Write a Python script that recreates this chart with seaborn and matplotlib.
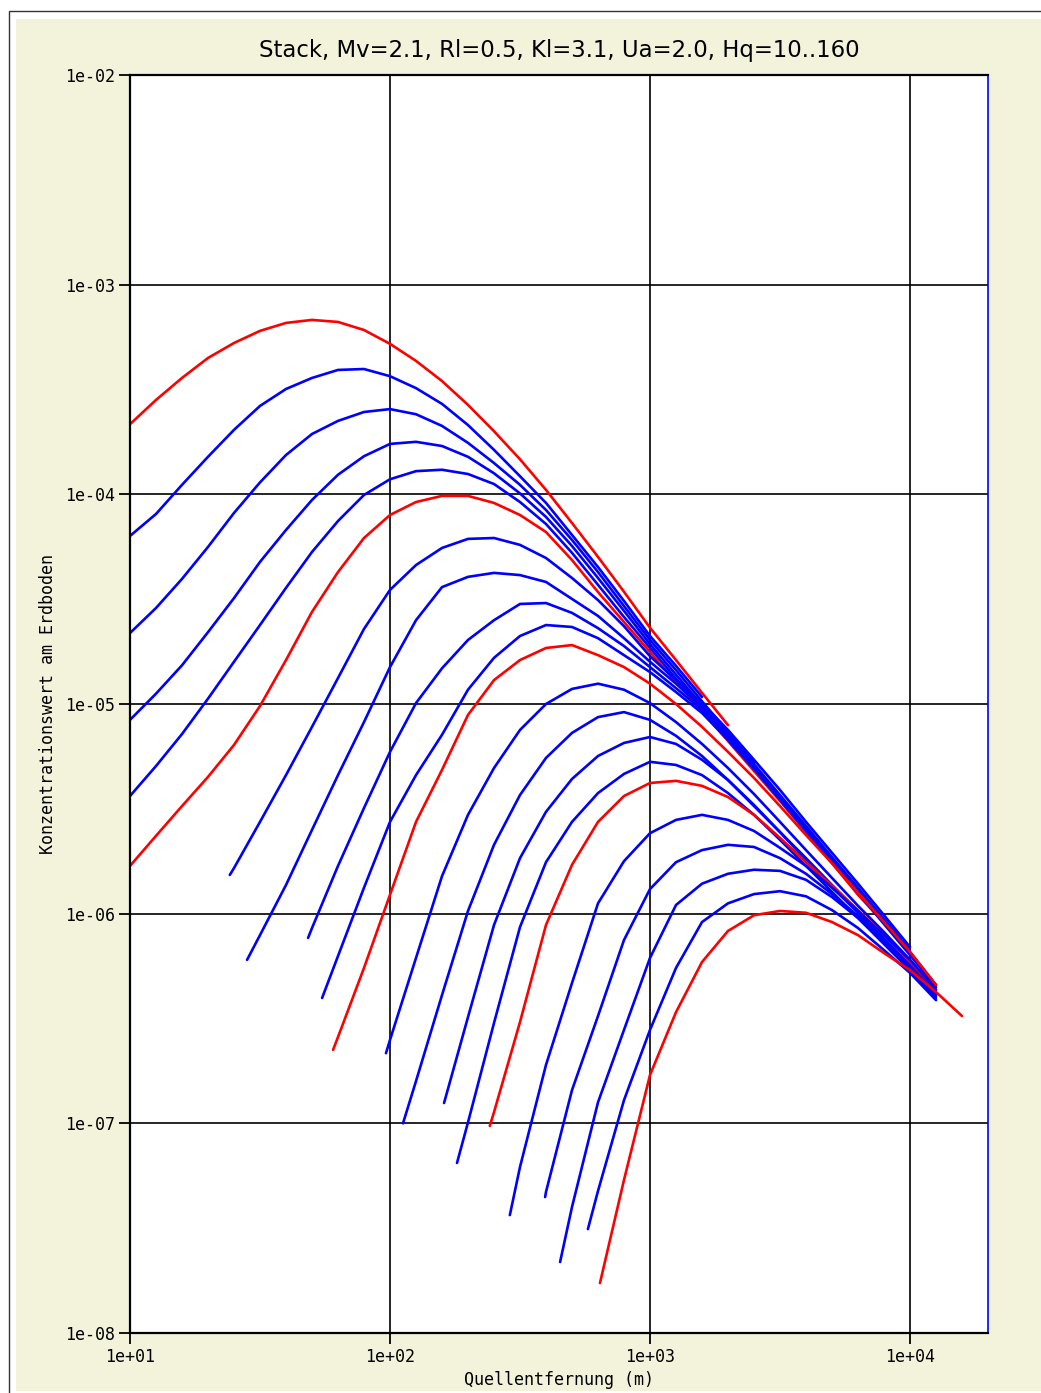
import matplotlib
matplotlib.use("Agg")
import matplotlib.pyplot as plt
import seaborn as sns
import pandas as pd
from matplotlib.patches import Rectangle
from matplotlib.ticker import FixedLocator, FuncFormatter, NullLocator

# ---------------- data ----------------
TITLE = "Stack, Mv=2.1, Rl=0.5, Kl=3.1, Ua=2.0, Hq=10..160"
XLABEL = "Quellentfernung (m)"
YLABEL = "Konzentrationswert am Erdboden"
XTICKS = [1e1, 1e2, 1e3, 1e4]
YTICKS = [1e-8, 1e-7, 1e-6, 1e-5, 1e-4, 1e-3, 1e-2]

# common distance grid (m)
DIST = [10, 12.59, 15.85, 19.95, 25.12, 31.62, 39.81, 50.12, 63.10, 79.43,
        100, 125.9, 158.5, 199.5, 251.2, 316.2, 398.1, 501.2, 631.0, 794.3,
        1000, 1259, 1585, 1995, 2512, 3162, 3981, 5012, 6310, 7943,
        10000, 12589, 15849]

# each curve: first point (if off-grid), first grid index, concentrations
c00_start, c00_i0 = None, 0
c00 = [2.16e-4, 2.82e-4, 3.59e-4, 4.47e-4, 5.27e-4, 6.02e-4, 6.57e-4, 6.79e-4, 6.64e-4, 6.08e-4,
       5.22e-4, 4.33e-4, 3.47e-4, 2.67e-4, 2.00e-4, 1.47e-4, 1.05e-4, 7.30e-5, 5.03e-5, 3.43e-5,
       2.31e-5, 1.62e-5, 1.13e-5, 7.93e-6]
c01_start, c01_i0 = None, 0
c01 = [6.33e-5, 8.06e-5, 1.11e-4, 1.51e-4, 2.03e-4, 2.64e-4, 3.18e-4, 3.59e-4, 3.92e-4, 3.96e-4,
       3.66e-4, 3.21e-4, 2.70e-4, 2.14e-4, 1.63e-4, 1.22e-4, 9.10e-5, 6.40e-5, 4.50e-5, 3.10e-5,
       2.11e-5, 1.52e-5, 1.08e-5]
c02_start, c02_i0 = None, 0
c02 = [2.18e-5, 2.87e-5, 3.95e-5, 5.61e-5, 8.15e-5, 1.14e-4, 1.54e-4, 1.94e-4, 2.24e-4, 2.47e-4,
       2.55e-4, 2.41e-4, 2.12e-4, 1.76e-4, 1.41e-4, 1.11e-4, 8.42e-5, 6.06e-5, 4.26e-5, 2.93e-5,
       2.02e-5, 1.45e-5, 1.03e-5, 7.36e-6, 5.24e-6]
c03_start, c03_i0 = None, 0
c03 = [8.40e-6, 1.12e-5, 1.53e-5, 2.20e-5, 3.20e-5, 4.76e-5, 6.76e-5, 9.40e-5, 1.24e-4, 1.52e-4,
       1.74e-4, 1.78e-4, 1.70e-4, 1.51e-4, 1.26e-4, 1.01e-4, 7.80e-5, 5.67e-5, 3.99e-5, 2.78e-5,
       1.93e-5, 1.38e-5, 9.86e-6, 7.05e-6, 5.06e-6, 3.60e-6, 2.56e-6]
c04_start, c04_i0 = None, 0
c04 = [3.64e-6, 5.06e-6, 7.19e-6, 1.06e-5, 1.59e-5, 2.38e-5, 3.58e-5, 5.31e-5, 7.46e-5, 9.93e-5,
       1.18e-4, 1.29e-4, 1.31e-4, 1.25e-4, 1.12e-4, 9.19e-5, 7.22e-5, 5.26e-5, 3.70e-5, 2.60e-5,
       1.85e-5, 1.32e-5, 9.57e-6, 6.89e-6, 4.95e-6, 3.52e-6, 2.51e-6, 1.78e-6]
c05_start, c05_i0 = None, 0
c05 = [1.69e-6, 2.35e-6, 3.26e-6, 4.49e-6, 6.38e-6, 9.78e-6, 1.62e-5, 2.75e-5, 4.26e-5, 6.19e-5,
       7.97e-5, 9.19e-5, 9.83e-5, 9.83e-5, 9.10e-5, 7.97e-5, 6.61e-5, 4.86e-5, 3.42e-5, 2.46e-5,
       1.77e-5, 1.27e-5, 9.26e-6, 6.66e-6, 4.79e-6, 3.45e-6, 2.45e-6, 1.74e-6, 1.23e-6, 9.03e-7]
c06_start, c06_i0 = (24.2, 1.53e-6), 4
c06 = [1.65e-6, 2.74e-6, 4.58e-6, 7.78e-6, 1.33e-5, 2.28e-5, 3.50e-5, 4.60e-5, 5.55e-5, 6.13e-5,
       6.19e-5, 5.74e-5, 4.97e-5, 3.99e-5, 3.13e-5, 2.35e-5, 1.69e-5, 1.30e-5, 1.01e-5, 7.52e-6,
       5.42e-6, 3.89e-6, 2.74e-6, 1.95e-6, 1.39e-6, 9.83e-7, 6.93e-7]
c07_start, c07_i0 = (28.2, 6.02e-7), 5
c07 = [7.90e-7, 1.37e-6, 2.51e-6, 4.58e-6, 8.20e-6, 1.50e-5, 2.51e-5, 3.61e-5, 4.04e-5, 4.22e-5,
       4.12e-5, 3.82e-5, 3.17e-5, 2.63e-5, 2.06e-5, 1.59e-5, 1.25e-5, 9.67e-6, 7.19e-6, 5.17e-6,
       3.68e-6, 2.62e-6, 1.86e-6, 1.33e-6, 9.42e-7, 6.70e-7]
c08_start, c08_i0 = (48.4, 7.66e-7), 7
c08 = [8.54e-7, 1.69e-6, 3.19e-6, 5.91e-6, 1.01e-5, 1.48e-5, 2.02e-5, 2.51e-5, 3.00e-5, 3.03e-5,
       2.72e-5, 2.30e-5, 1.89e-5, 1.50e-5, 1.19e-5, 9.36e-6, 6.96e-6, 5.00e-6, 3.60e-6, 2.56e-6,
       1.82e-6, 1.30e-6, 9.22e-7, 6.57e-7, 4.57e-7]
c09_start, c09_i0 = (54.8, 3.96e-7), 8
c09 = [6.28e-7, 1.33e-6, 2.74e-6, 4.58e-6, 7.13e-6, 1.17e-5, 1.66e-5, 2.11e-5, 2.38e-5, 2.33e-5,
       2.06e-5, 1.71e-5, 1.42e-5, 1.14e-5, 9.06e-6, 6.73e-6, 4.90e-6, 3.49e-6, 2.48e-6, 1.76e-6,
       1.26e-6, 8.92e-7, 6.35e-7, 4.47e-7]
c10_start, c10_i0 = (60.4, 2.24e-7), 8
c10 = [2.58e-7, 5.51e-7, 1.23e-6, 2.74e-6, 4.85e-6, 8.87e-6, 1.30e-5, 1.62e-5, 1.85e-5, 1.91e-5,
       1.71e-5, 1.50e-5, 1.25e-5, 1.00e-5, 7.78e-6, 5.91e-6, 4.44e-6, 3.26e-6, 2.37e-6, 1.74e-6,
       1.26e-6, 9.12e-7, 6.57e-7, 4.57e-7]
c11_start, c11_i0 = (96.5, 2.16e-7), 10
c11 = [2.50e-7, 6.15e-7, 1.51e-6, 2.96e-6, 4.95e-6, 7.52e-6, 1.00e-5, 1.18e-5, 1.25e-5, 1.17e-5,
       1.01e-5, 8.20e-6, 6.45e-6, 4.95e-6, 3.72e-6, 2.74e-6, 2.01e-6, 1.48e-6, 1.09e-6, 8.17e-7,
       6.02e-7, 4.33e-7]
c12_start, c12_i0 = (112.2, 1.00e-7), 11
c12 = [1.59e-7, 4.09e-7, 1.03e-6, 2.13e-6, 3.68e-6, 5.53e-6, 7.28e-6, 8.66e-6, 9.15e-6, 8.40e-6,
       7.05e-6, 5.65e-6, 4.34e-6, 3.30e-6, 2.45e-6, 1.84e-6, 1.37e-6, 1.03e-6, 7.74e-7, 5.82e-7,
       4.18e-7]
c13_start, c13_i0 = (161.4, 1.25e-7), 13
c13 = [3.21e-7, 8.83e-7, 1.84e-6, 3.06e-6, 4.39e-6, 5.65e-6, 6.52e-6, 6.96e-6, 6.45e-6, 5.42e-6,
       4.34e-6, 3.26e-6, 2.45e-6, 1.80e-6, 1.34e-6, 1.01e-6, 7.49e-7, 5.63e-7, 4.09e-7]
c14_start, c14_i0 = (181.0, 6.47e-8), 13
c14 = [1.01e-7, 3.01e-7, 8.63e-7, 1.76e-6, 2.74e-6, 3.76e-6, 4.64e-6, 5.30e-6, 5.12e-6, 4.58e-6,
       3.76e-6, 2.96e-6, 2.25e-6, 1.69e-6, 1.27e-6, 9.54e-7, 7.16e-7, 5.38e-7, 3.96e-7]
c15_start, c15_i0 = (242.0, 9.72e-8), 14
c15 = [1.13e-7, 3.04e-7, 8.83e-7, 1.71e-6, 2.74e-6, 3.64e-6, 4.20e-6, 4.30e-6, 4.07e-6, 3.60e-6,
       2.96e-6, 2.30e-6, 1.76e-6, 1.36e-6, 1.04e-6, 7.90e-7, 5.88e-7, 4.33e-7]
c16_start, c16_i0 = (289.0, 3.65e-8), 15
c16 = [6.19e-8, 1.90e-7, 4.67e-7, 1.12e-6, 1.78e-6, 2.42e-6, 2.80e-6, 2.96e-6, 2.80e-6, 2.48e-6,
       2.06e-6, 1.69e-6, 1.33e-6, 1.03e-6, 7.90e-7, 6.02e-7, 4.33e-7]
c17_start, c17_i0 = (395.0, 4.45e-8), 16
c17 = [4.71e-8, 1.44e-7, 3.25e-7, 7.49e-7, 1.31e-6, 1.76e-6, 2.01e-6, 2.13e-6, 2.08e-6, 1.84e-6,
       1.55e-6, 1.24e-6, 9.74e-7, 7.49e-7, 5.63e-7, 4.09e-7]
c18_start, c18_i0 = (451.0, 2.18e-8), 17
c18 = [3.99e-8, 1.26e-7, 2.79e-7, 6.15e-7, 1.10e-6, 1.39e-6, 1.55e-6, 1.62e-6, 1.60e-6, 1.45e-6,
       1.20e-6, 9.54e-7, 7.32e-7, 5.51e-7, 4.05e-7]
c19_start, c19_i0 = (577.0, 3.13e-8), 18
c19 = [4.76e-8, 1.29e-7, 2.79e-7, 5.51e-7, 9.12e-7, 1.12e-6, 1.24e-6, 1.28e-6, 1.21e-6, 1.04e-6,
       8.54e-7, 6.70e-7, 5.22e-7, 3.87e-7]
c20_start, c20_i0 = (642.0, 1.73e-8), 19
c20 = [5.37e-8, 1.70e-7, 3.39e-7, 5.88e-7, 8.27e-7, 9.83e-7, 1.03e-6, 1.01e-6, 9.12e-7, 7.90e-7,
       6.49e-7, 5.38e-7, 4.23e-7, 3.25e-7]

CURVES = [
    (c00_start, c00_i0, c00), (c01_start, c01_i0, c01), (c02_start, c02_i0, c02),
    (c03_start, c03_i0, c03), (c04_start, c04_i0, c04), (c05_start, c05_i0, c05),
    (c06_start, c06_i0, c06), (c07_start, c07_i0, c07), (c08_start, c08_i0, c08),
    (c09_start, c09_i0, c09), (c10_start, c10_i0, c10), (c11_start, c11_i0, c11),
    (c12_start, c12_i0, c12), (c13_start, c13_i0, c13), (c14_start, c14_i0, c14),
    (c15_start, c15_i0, c15), (c16_start, c16_i0, c16), (c17_start, c17_i0, c17),
    (c18_start, c18_i0, c18), (c19_start, c19_i0, c19), (c20_start, c20_i0, c20),
]

rows = []
for k, (start, i0, vals) in enumerate(CURVES):
    xs = ([start[0]] if start else []) + DIST[i0:i0 + len(vals)]
    ys = ([start[1]] if start else []) + list(vals)
    for x, y in zip(xs, ys):
        rows.append({"curve": k, "dist": x, "conc": y})
df = pd.DataFrame(rows)

# ---------------- figure ----------------
W, H = 1041, 1393
sns.set_theme(style="white")
plt.rcParams["font.family"] = ["DejaVu Sans"]

fig = plt.figure(figsize=(W / 100, H / 100), dpi=100, facecolor="white")
# outer frame and beige panel (behind the axes)
fig.patches.append(Rectangle((8.5 / W, -0.05), 1.2, 1 - 10.5 / H + 0.05,
                             transform=fig.transFigure, fill=False,
                             edgecolor="#333333", lw=1.0, zorder=-20))
fig.patches.append(Rectangle((16 / W, 2 / H), 1.2, (1391 - 19) / H,
                             transform=fig.transFigure, facecolor="#f3f3dc",
                             edgecolor="none", zorder=-10))

ax = fig.add_axes([130 / W, 1 - 1333 / H, 858 / W, 1258 / H])
ax.set_zorder(1)
ax.set_facecolor("white")
ax.set_xscale("log")
ax.set_yscale("log")

palette = {k: ("#ff0000" if k % 5 == 0 else "#0000ff") for k in range(len(CURVES))}
sns.lineplot(data=df, x="dist", y="conc", hue="curve", palette=palette,
             estimator=None, sort=False, legend=False, lw=1.9, ax=ax)

ax.set_xlim(10, 10 ** 4.3)
ax.set_ylim(1e-8, 1e-2)
ax.xaxis.set_major_locator(FixedLocator(XTICKS))
ax.yaxis.set_major_locator(FixedLocator(YTICKS))
ax.xaxis.set_minor_locator(NullLocator())
ax.yaxis.set_minor_locator(NullLocator())
fmt = FuncFormatter(lambda v, p: f"{v:.0e}")
ax.xaxis.set_major_formatter(fmt)
ax.yaxis.set_major_formatter(fmt)
ax.tick_params(axis="both", which="major", direction="out", length=8, width=1.3,
               color="black", labelsize=12, labelcolor="black", pad=3,
               left=True, bottom=True, labelfontfamily="DejaVu Sans Mono")
ax.set_xlabel("")
ax.set_ylabel("")
ax.grid(True, which="major", color="black", lw=1.2)
ax.set_axisbelow(True)

for side in ["left", "bottom", "top"]:
    ax.spines[side].set_color("black")
    ax.spines[side].set_linewidth(1.6)
ax.spines["right"].set_color("#0000ff")
ax.spines["right"].set_linewidth(1.2)

fig.text(559 / W, 1 - 51 / H, TITLE, ha="center", va="center", fontsize=16.4,
         color="black")
fig.text(559 / W, 1 - 1380 / H, XLABEL, ha="center", va="center", fontsize=12,
         family="DejaVu Sans Mono", color="black")
fig.text(48 / W, 1 - 704 / H, YLABEL, ha="center", va="center", rotation=90,
         fontsize=12, family="DejaVu Sans Mono", color="black")

fig.savefig("out.png", dpi=100, facecolor=fig.get_facecolor())
